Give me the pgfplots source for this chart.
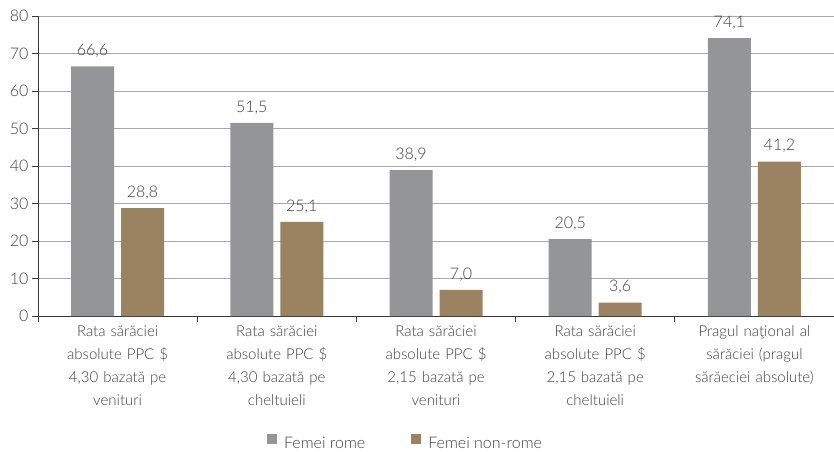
\documentclass[border=0pt]{standalone}
\usepackage{fontspec}
\setmainfont{Lato Light}
\usepackage{pgfplots}
\pgfplotsset{compat=1.18}
\definecolor{rome}{HTML}{939598}
\definecolor{nonrome}{HTML}{9B8362}
\definecolor{txt}{HTML}{404040}
\definecolor{gridc}{HTML}{A8A8A8}
\definecolor{axc}{HTML}{3A3A3A}
\begin{document}
\begin{tikzpicture}[font=\fontsize{15}{23}\selectfont]
\begin{axis}[
  at={(0pt,0pt)}, anchor=south west,
  scale only axis, width=796pt, height=300pt,
  xmin=-0.5, xmax=4.5, ymin=0, ymax=80,
  ytick={0,10,...,80},
  axis x line*=bottom, axis y line*=left,
  axis line style={-, draw=axc, line width=0.7pt},
  ymajorgrids, grid style={gridc, line width=0.7pt},
  tick align=outside, major tick length=6pt, minor tick length=6pt,
  tick style={axc, line width=0.7pt},
  xtick={0,1,2,3,4},
  minor xtick={-0.5,0.5,1.5,2.5,3.5,4.5},
  major x tick style={draw=none},
  minor x tick style={draw=axc, line width=0.7pt},
  xticklabels={
    {Rata sărăciei\\absolute PPC \$\\4,30 bazată pe\\venituri},
    {Rata sărăciei\\absolute PPC \$\\4,30 bazată pe\\cheltuieli},
    {Rata sărăciei\\absolute PPC \$\\2,15 bazată pe\\venituri},
    {Rata sărăciei\\absolute PPC \$\\2,15 bazată pe\\cheltuieli},
    {Pragul naţional al\\sărăciei (pragul\\sărăeciei absolute)}},
  xticklabel style={text width=150pt, align=center, text=txt, font=\fontsize{15}{23}\selectfont},
  yticklabel style={text=txt, font=\fontsize{16}{16}\selectfont},
  /pgf/number format/assume math mode=true,
  ybar, bar width=43pt,
  nodes near coords={\pgfmathprintnumber[fixed,fixed zerofill,precision=1,use comma,assume math mode=true]{\pgfplotspointmeta}},
  nodes near coords style={text=txt, font=\fontsize{16}{16}\selectfont, yshift=5pt},
  legend style={at={(0.4617,-0.4233)}, anchor=center, draw=none, fill=none,
    legend columns=2, font=\fontsize{16}{16}\selectfont, text=txt,
    /tikz/every even column/.append style={column sep=44pt}},
  legend image code/.code={\fill[#1] (0pt,0pt) rectangle (10pt,10pt); \path (0pt,0pt) -- (15pt,0pt);},
]
\addplot[fill=rome, draw=none, bar shift=-25pt] coordinates {(0,66.6) (1,51.5) (2,38.9) (3,20.5) (4,74.1)};
\addplot[fill=nonrome, draw=none, bar shift=25pt] coordinates {(0,28.8) (1,25.1) (2,7.0) (3,3.6) (4,41.2)};
\legend{Femei rome, Femei non-rome}
\end{axis}
\pgfresetboundingbox
\path (-38pt,-135pt) rectangle (796pt,316pt);
\end{tikzpicture}
\end{document}
